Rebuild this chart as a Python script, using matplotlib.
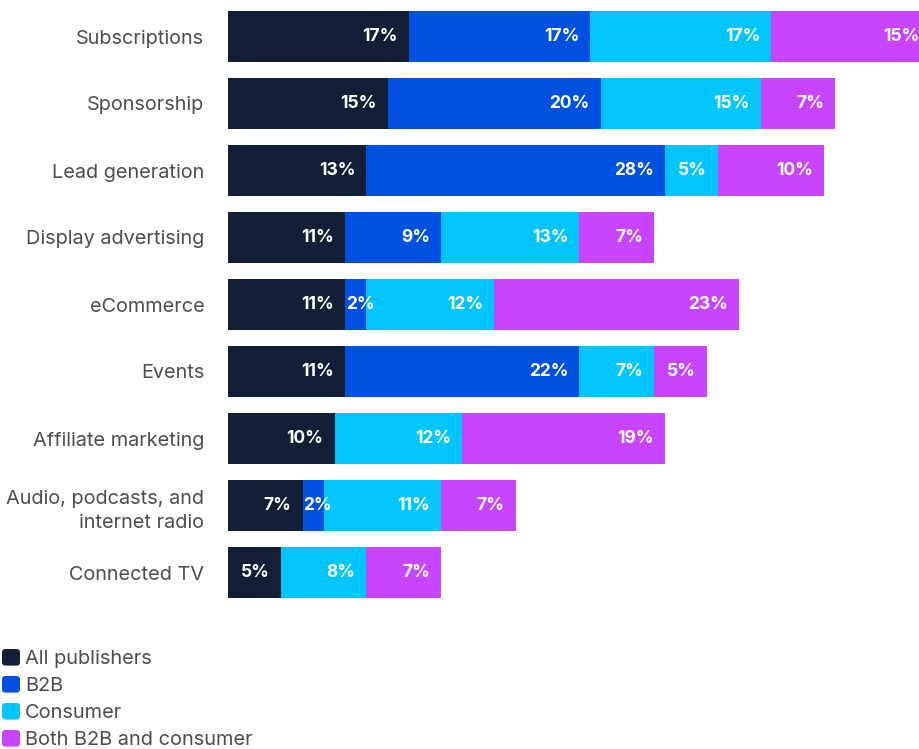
import numpy as np
import matplotlib.pyplot as plt
from matplotlib.patches import FancyBboxPatch, Patch
from matplotlib.legend_handler import HandlerPatch

plt.rcParams['font.family'] = ['Inter', 'DejaVu Sans']

categories = ["Subscriptions", "Sponsorship", "Lead generation", "Display advertising",
              "eCommerce", "Events", "Affiliate marketing",
              "Audio, podcasts, and\ninternet radio", "Connected TV"]
series = ["All publishers", "B2B", "Consumer", "Both B2B and consumer"]
all_pub = [17, 15, 13, 11, 11, 11, 10, 7, 5]
b2b = [17, 20, 28, 9, 2, 22, 0, 2, 0]
consumer = [17, 15, 5, 13, 12, 7, 12, 11, 8]
both = [15, 7, 10, 7, 23, 5, 19, 7, 7]
colors = ["#131f36", "#0051e0", "#00c6fb", "#c845ff"]


class RoundHandler(HandlerPatch):
    def create_artists(self, legend, orig_handle, xdescent, ydescent,
                       width, height, fontsize, trans):
        p = FancyBboxPatch((-xdescent, -ydescent), width, height,
                           boxstyle="round,pad=0,rounding_size=2.5",
                           facecolor=orig_handle.get_facecolor(), edgecolor='none',
                           transform=trans)
        return [p]


W, H = 919, 749
fig = plt.figure(figsize=(W / 100, H / 100), dpi=100)
ax = fig.add_axes([228 / W, 1 - 606 / H, 1 - 228 / W, 603 / H])

y = np.arange(len(categories))
left = np.zeros(len(categories))
for vals, col in zip([all_pub, b2b, consumer, both], colors):
    vals = np.array(vals, dtype=float)
    ax.barh(y, vals, left=left, height=0.76, color=col, linewidth=0)
    for yi, l, v in zip(y, left, vals):
        if v <= 0:
            continue
        if v < 3:
            ax.annotate(f"{int(v)}%", (l, yi), xytext=(1, 0), textcoords='offset pixels',
                        ha='left', va='center', color='white', fontsize=12.5,
                        fontweight='bold', annotation_clip=False)
        else:
            ax.annotate(f"{int(v)}%", (l + v, yi), xytext=(-11, 0), textcoords='offset pixels',
                        ha='right', va='center', color='white', fontsize=12.5,
                        fontweight='bold', annotation_clip=False)
    left += vals

ax.set_xlim(0, 691 / 10.65)
ax.set_ylim(len(categories) - 0.5, -0.5)
ax.set_yticks(y)
ax.set_yticklabels(categories, fontsize=14.3, color='#4d4d4d', linespacing=1.45)
ax.tick_params(axis='y', length=0, pad=17)
ax.set_xticks([])
for s in ax.spines.values():
    s.set_visible(False)

handles = [Patch(facecolor=c, edgecolor='none') for c in colors]
leg = fig.legend(handles, series, loc='upper left', bbox_to_anchor=(2 / W, 1 - 649 / H),
                 frameon=False, fontsize=14.4, handlelength=0.9, handleheight=0.9,
                 handletextpad=0.25, labelspacing=0.39, borderpad=0, borderaxespad=0,
                 handler_map={Patch: RoundHandler()})
for t in leg.get_texts():
    t.set_color('#4d4d4d')

fig.savefig("out.png", dpi=100)
